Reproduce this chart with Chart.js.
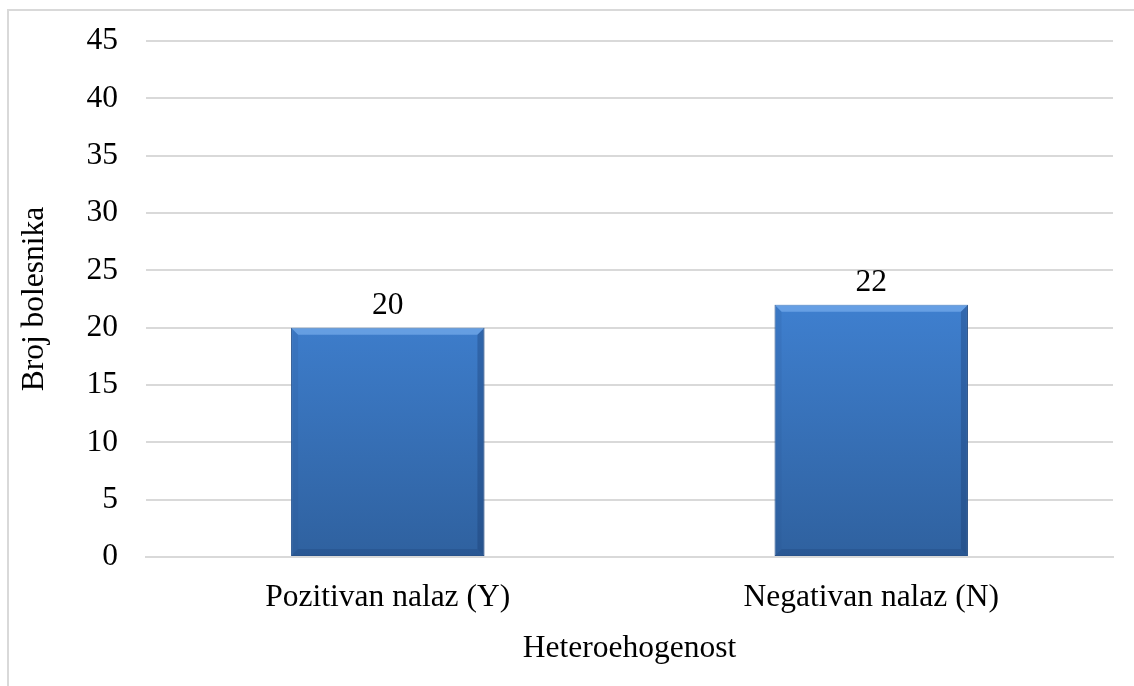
<!DOCTYPE html>
<html>
<head>
<meta charset="utf-8">
<script src="https://cdn.jsdelivr.net/npm/chart.js@4.4.1/dist/chart.umd.min.js"></script>
<style>
  html, body { margin: 0; padding: 0; background: #fff; }
  #wrap { position: relative; width: 1134px; height: 686px; }
  #frame { position: absolute; left: 7px; top: 9px; width: 1127px; height: 677px;
           border-top: 2px solid #d9d9d9; border-left: 2px solid #d9d9d9; box-sizing: border-box; }
  canvas { position: absolute; left: 0; top: 0; }
</style>
</head>
<body>
<div id="wrap">
  <div id="frame"></div>
  <canvas id="barChart" width="1134" height="686"></canvas>
</div>
<script>
// chart data
const categories = ["Pozitivan nalaz (Y)", "Negativan nalaz (N)"];
const patientCounts = [20, 22];
const xTitle = "Heteroehogenost";
const yTitle = "Broj bolesnika";
const yMax = 45;
const yStep = 5;

const FONT = "'Liberation Serif', 'Times New Roman', serif";
const FSIZE = 31.5;

// value labels above the bars
const valueLabels = {
    id: "valueLabels",
    afterDatasetsDraw(chart) {
        const ctx = chart.ctx;
        const meta = chart.getDatasetMeta(0);
        ctx.save();
        ctx.font = FSIZE + "px " + FONT;
        ctx.fillStyle = "#000";
        ctx.textAlign = "center";
        ctx.textBaseline = "alphabetic";
        meta.data.forEach((bar, i) => {
            ctx.fillText(String(patientCounts[i]), bar.x, bar.y - 14);
        });
        ctx.restore();
    }
};

// soft bevel on the bar edges
const bevel = {
    id: "bevel",
    afterDatasetsDraw(chart) {
        const ctx = chart.ctx;
        const meta = chart.getDatasetMeta(0);
        ctx.save();
        meta.data.forEach(bar => {
            const left = bar.x - bar.width / 2, right = bar.x + bar.width / 2;
            const top = bar.y, bottom = bar.base, b = 7;
            ctx.fillStyle = "rgba(150,200,255,0.45)";
            ctx.beginPath();
            ctx.moveTo(left, top); ctx.lineTo(right, top);
            ctx.lineTo(right - b, top + b); ctx.lineTo(left + b, top + b);
            ctx.closePath(); ctx.fill();
            ctx.fillStyle = "rgba(20,50,100,0.3)";
            ctx.beginPath();
            ctx.moveTo(right, top); ctx.lineTo(right, bottom);
            ctx.lineTo(right - b, bottom - b); ctx.lineTo(right - b, top + b);
            ctx.closePath(); ctx.fill();
            ctx.fillStyle = "rgba(20,50,100,0.2)";
            ctx.beginPath();
            ctx.moveTo(left, bottom); ctx.lineTo(right, bottom);
            ctx.lineTo(right - b, bottom - b); ctx.lineTo(left + b, bottom - b);
            ctx.closePath(); ctx.fill();
            ctx.fillStyle = "rgba(40,80,140,0.15)";
            ctx.beginPath();
            ctx.moveTo(left, top); ctx.lineTo(left, bottom);
            ctx.lineTo(left + b, bottom - b); ctx.lineTo(left + b, top + b);
            ctx.closePath(); ctx.fill();
        });
        ctx.restore();
    }
};

const canvas = document.getElementById("barChart");
const ctx = canvas.getContext("2d");

new Chart(ctx, {
    type: "bar",
    data: {
        labels: categories,
        datasets: [{
            label: yTitle,
            data: patientCounts,
            backgroundColor: (c) => {
                const area = c.chart.chartArea;
                if (!area) return "#3a78c8";
                const g = c.chart.ctx.createLinearGradient(0, area.top, 0, area.bottom);
                g.addColorStop(0, "#4d93e6");
                g.addColorStop(0.5, "#3f80d0");
                g.addColorStop(1, "#2f619f");
                return g;
            },
            borderColor: "#2d5a94",
            borderWidth: 1,
            borderSkipped: false,
            categoryPercentage: 0.8,
            barPercentage: 0.5
        }]
    },
    options: {
        responsive: false,
        animation: false,
        layout: { padding: { top: 41, right: 21, left: 0, bottom: 18 } },
        plugins: {
            legend: { display: false },
            tooltip: { enabled: false }
        },
        scales: {
            x: {
                grid: { display: false, drawTicks: false },
                border: { color: "#d9d9d9", width: 2 },
                ticks: { color: "#000", font: { family: FONT, size: FSIZE }, padding: 22 },
                title: { display: true, text: xTitle, color: "#000",
                         font: { family: FONT, size: FSIZE }, padding: { top: 0, bottom: 0 } },
                afterFit(scale) { scale.height = 111; }
            },
            y: {
                min: 0,
                max: yMax,
                ticks: { stepSize: yStep, color: "#000", font: { family: FONT, size: FSIZE }, padding: 28 },
                grid: { color: "#d9d9d9", lineWidth: 2, drawTicks: false },
                border: { display: false },
                title: { display: true, text: yTitle, color: "#000",
                         font: { family: FONT, size: FSIZE }, padding: { top: 16, bottom: 0 } },
                afterFit(scale) {
                    scale.width = 146;
                    scale.paddingTop = 0;
                    scale.paddingBottom = 0;
                }
            }
        }
    },
    plugins: [bevel, valueLabels]
});
</script>
</body>
</html>
